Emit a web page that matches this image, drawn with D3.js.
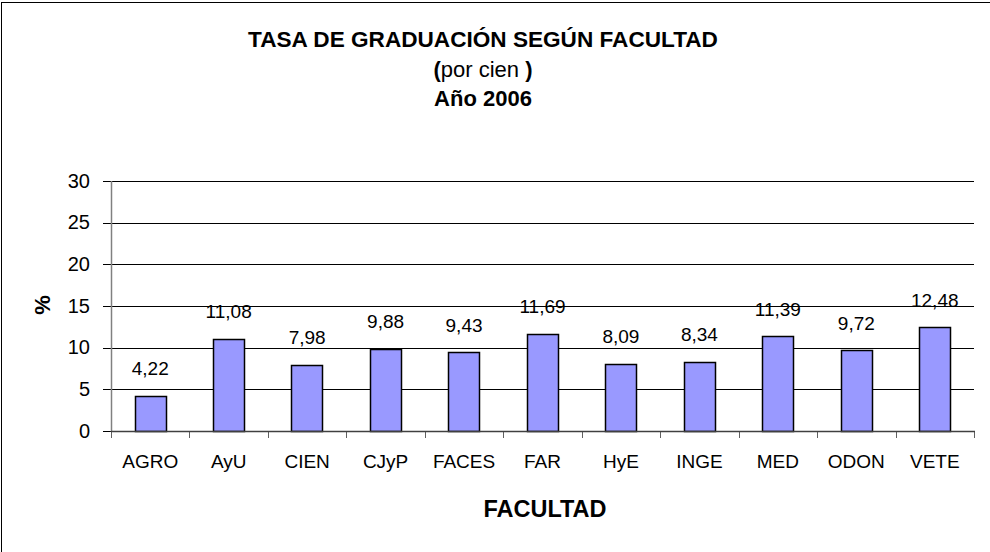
<!DOCTYPE html>
<html>
<head>
<meta charset="utf-8">
<script src="https://cdn.jsdelivr.net/npm/d3@7/dist/d3.min.js"></script>
<style>
  html, body { margin: 0; padding: 0; background: #fff; }
  svg { display: block; font-family: Arial, "Liberation Sans", sans-serif; }
</style>
</head>
<body>
<svg id="chart" width="990" height="552"></svg>
<script>
// Graduation rate by faculty, 2006 (per hundred)
const facultades = ["AGRO", "AyU", "CIEN", "CJyP", "FACES", "FAR", "HyE", "INGE", "MED", "ODON", "VETE"];
const tasas = [4.22, 11.08, 7.98, 9.88, 9.43, 11.69, 8.09, 8.34, 11.39, 9.72, 12.48];
const yTicks = [0, 5, 10, 15, 20, 25, 30];

const svg = d3.select("#chart");
const W = 990, H = 552;
const plot = { left: 111, right: 974, top: 181, bottom: 431 };

// Outer frame of the chart area
svg.append("rect")
  .attr("x", 1.5).attr("y", 2.5)
  .attr("width", W + 10).attr("height", H + 10)
  .attr("fill", "#fff").attr("stroke", "#000").attr("stroke-width", 1);

const x = d3.scaleBand()
  .domain(facultades)
  .range([plot.left, plot.right])
  .paddingInner(0).paddingOuter(0);

const y = d3.scaleLinear()
  .domain([0, 30])
  .range([plot.bottom, plot.top]);

const barW = x.bandwidth() / 2.5;

// Horizontal gridlines (extend through the tick marks)
svg.append("g").selectAll("line")
  .data(yTicks)
  .join("line")
  .attr("x1", plot.left - 8).attr("x2", plot.right)
  .attr("y1", d => Math.round(y(d)) + 0.5).attr("y2", d => Math.round(y(d)) + 0.5)
  .attr("stroke", "#000").attr("stroke-width", 1);

// Y axis line
svg.append("line")
  .attr("x1", plot.left + 0.5).attr("x2", plot.left + 0.5)
  .attr("y1", Math.round(y(30))).attr("y2", Math.round(y(0)) + 1)
  .attr("stroke", "#808080").attr("stroke-width", 1.5);

// Y tick labels
svg.append("g").selectAll("text")
  .data(yTicks)
  .join("text")
  .attr("x", 90)
  .attr("y", d => y(d) + 6.5)
  .attr("text-anchor", "end")
  .attr("font-size", 20)
  .attr("fill", "#000")
  .text(d => d);

// Bars
svg.append("g").selectAll("rect")
  .data(tasas)
  .join("rect")
  .attr("x", (d, i) => Math.round(x(facultades[i]) + x.bandwidth() / 2 - barW / 2) + 0.5)
  .attr("y", d => Math.round(y(d)) + 0.5)
  .attr("width", Math.round(barW))
  .attr("height", d => Math.round(y(0)) - Math.round(y(d)))
  .attr("fill", "#9999ff")
  .attr("stroke", "#000").attr("stroke-width", 1.5);

// Category tick marks below the axis
const tickPos = facultades.map(f => x(f)).concat([plot.right]);
svg.append("g").selectAll("line")
  .data(tickPos)
  .join("line")
  .attr("x1", d => Math.round(d) + 0.5).attr("x2", d => Math.round(d) + 0.5)
  .attr("y1", Math.round(y(0))).attr("y2", Math.round(y(0)) + 7)
  .attr("stroke", "#606060").attr("stroke-width", 1);

// Bottom axis line
svg.append("line")
  .attr("x1", plot.left).attr("x2", plot.right + 1)
  .attr("y1", Math.round(y(0)) + 0.5).attr("y2", Math.round(y(0)) + 0.5)
  .attr("stroke", "#404040").attr("stroke-width", 1.5);

// Category labels
svg.append("g").selectAll("text")
  .data(facultades)
  .join("text")
  .attr("x", d => x(d) + x.bandwidth() / 2)
  .attr("y", y(0) + 37)
  .attr("text-anchor", "middle")
  .attr("font-size", 19)
  .attr("fill", "#000")
  .text(d => d);

// Value labels above bars
const fmt = v => v.toFixed(2).replace(".", ",");
svg.append("g").selectAll("text")
  .data(tasas)
  .join("text")
  .attr("x", (d, i) => x(facultades[i]) + x.bandwidth() / 2)
  .attr("y", d => y(d) - 20.5)
  .attr("text-anchor", "middle")
  .attr("font-size", 19)
  .attr("fill", "#000")
  .text(fmt);

// Titles
const cx = 483;
svg.append("text")
  .attr("x", cx).attr("y", 47)
  .attr("text-anchor", "middle")
  .attr("font-size", 22.6).attr("font-weight", "bold")
  .text("TASA DE GRADUACIÓN SEGÚN FACULTAD");

const sub = svg.append("text")
  .attr("x", cx).attr("y", 77)
  .attr("text-anchor", "middle")
  .attr("font-size", 22);
sub.append("tspan").attr("font-weight", "bold").text("(");
sub.append("tspan").text("por cien ");
sub.append("tspan").attr("font-weight", "bold").text(")");

svg.append("text")
  .attr("x", cx).attr("y", 106)
  .attr("text-anchor", "middle")
  .attr("font-size", 22).attr("font-weight", "bold")
  .text("Año 2006");

// Axis titles
svg.append("text")
  .attr("transform", "translate(50,305) rotate(-90)")
  .attr("text-anchor", "middle")
  .attr("font-size", 22).attr("font-weight", "bold")
  .text("%");

svg.append("text")
  .attr("x", 545).attr("y", 517)
  .attr("text-anchor", "middle")
  .attr("font-size", 23.5).attr("font-weight", "bold")
  .text("FACULTAD");
</script>
</body>
</html>
